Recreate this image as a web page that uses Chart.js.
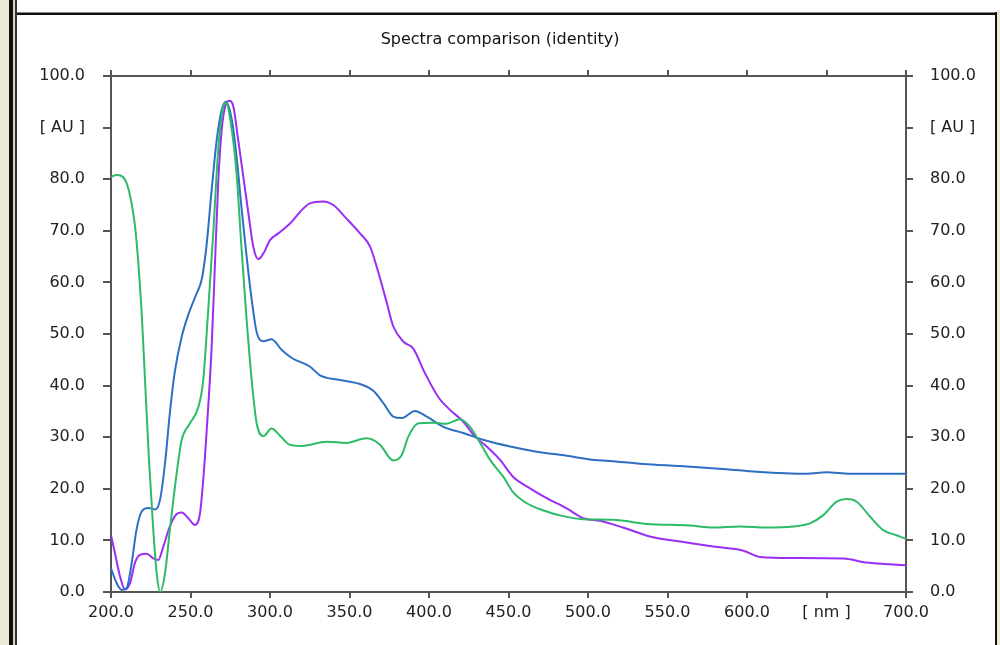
<!DOCTYPE html>
<html>
<head>
<meta charset="utf-8">
<title>Spectra comparison (identity)</title>
<script src="https://cdn.jsdelivr.net/npm/chart.js@4/dist/chart.umd.min.js"></script>
<style>
  html, body { margin: 0; padding: 0; background: #fff; }
  #wrap { position: relative; width: 1000px; height: 645px; overflow: hidden; }
  #spectra { position: absolute; left: 0; top: 0; }
  .frame { position: absolute; pointer-events: none; }
</style>
</head>
<body>
<div id="wrap">
  <canvas id="spectra" width="1000" height="645"></canvas>
  <!-- window frame around the plot panel -->
  <div class="frame" style="left:0;top:0;width:9px;height:645px;background:#ece9d8"></div>
  <div class="frame" style="left:9px;top:0;width:4px;height:645px;background:#111"></div>
  <div class="frame" style="left:13px;top:0;width:2px;height:645px;background:#d8d4c4"></div>
  <div class="frame" style="left:15px;top:0;width:2px;height:645px;background:#333"></div>
  <div class="frame" style="left:17px;top:12px;width:980px;height:1px;background:#888"></div>
  <div class="frame" style="left:17px;top:13px;width:980px;height:2px;background:#111"></div>
  <div class="frame" style="left:995px;top:12px;width:2px;height:633px;background:#111"></div>
  <div class="frame" style="left:997px;top:10px;width:3px;height:635px;background:#ece9d8"></div>
</div>
<script>
// wavelength [nm] / absorbance [AU] pairs
const blueNm = [200, 203.6, 206.7, 209.9, 213, 216, 219.3, 223.5, 227.7, 230.8, 234, 237, 240, 244.5, 248.6, 253.9, 257, 260, 263.3, 266.5, 269.6, 272.3, 276, 279, 282, 285.3, 288.5, 291.6, 295.8, 301, 307.4, 314, 325, 331.4, 344, 356.6, 365, 371.3, 377.5, 382.8, 391.2, 398.6, 409, 421.6, 434, 451, 467.7, 486.6, 501, 513.8, 534.8, 558, 587, 606, 637.5, 650, 664.8, 700];
const blueAu = [4.6, 1.7, 0.4, 0.8, 5.6, 12, 15.6, 16.3, 16, 17.8, 25, 34.6, 42.4, 49.5, 53.7, 57.9, 60.5, 66.9, 77.9, 87.6, 93.4, 95, 91.5, 84.4, 74.7, 65, 56.6, 50.4, 48.6, 49, 46.9, 45.3, 43.7, 42, 41.1, 40.3, 39, 36.6, 34, 33.7, 35.1, 34, 32, 30.8, 29.5, 28.2, 27.2, 26.4, 25.7, 25.4, 24.8, 24.4, 23.8, 23.3, 22.9, 23.2, 22.9, 22.9];

const greenNm = [200, 203.6, 209, 214, 216, 219.3, 221.4, 224, 226.6, 228.7, 231, 234, 237, 241.3, 244.5, 249.7, 255, 258, 261, 264.4, 267.5, 270.6, 272.3, 276, 279, 282, 285, 288.5, 291.6, 295.8, 301, 306, 312, 319, 335.7, 348, 360.8, 369, 377.5, 382.8, 387, 393.3, 402.7, 411, 419.5, 425.8, 431, 438.4, 446.8, 453, 461.5, 472, 484.5, 497, 516, 537, 564, 578.8, 595.6, 612.4, 629, 639.6, 648, 656.4, 662.7, 669, 677.4, 685.7, 694, 700];
const greenAu = [80.5, 80.8, 79.8, 73.4, 68.2, 54, 41, 25, 12, 3.7, 0, 3.7, 12, 23, 29.5, 32.7, 35.9, 41, 54, 70, 86, 94, 94.8, 89.5, 81, 67, 54, 41, 32.7, 30.2, 31.7, 30.4, 28.6, 28.3, 29.1, 28.9, 29.8, 28.6, 25.5, 26.5, 30.1, 32.7, 32.8, 32.6, 33.5, 32, 29.5, 25.6, 22.3, 19.3, 17.2, 15.8, 14.7, 14.1, 14, 13.2, 12.9, 12.5, 12.7, 12.5, 12.7, 13.3, 14.9, 17.5, 18, 17.5, 14.6, 12, 11, 10.3];

const purpleNm = [200, 202.5, 205.7, 208.8, 212, 215, 218.2, 222.4, 226.6, 229.7, 232.9, 237, 241.3, 244.5, 248.6, 252.8, 256, 258, 260.2, 263.3, 265.4, 267.5, 269.6, 271.7, 274.2, 277, 280, 283.2, 286.4, 289.5, 292.6, 295.8, 300, 305.2, 312.6, 319, 325, 333.5, 339.8, 348, 356.6, 363, 369, 373.5, 377.5, 384, 390, 397.5, 405.8, 413.2, 421.6, 429, 436.3, 444.7, 453, 463.5, 474, 486.6, 497, 507.5, 522, 541, 558, 578.8, 597.7, 608.2, 629, 660.6, 675.3, 700];
const purpleAu = [11, 7.5, 3, 0.5, 1.7, 5.6, 7.2, 7.4, 6.5, 6.2, 8.8, 12.7, 15.1, 15.4, 14.3, 13, 15.3, 21.7, 31.4, 47.5, 63.7, 79.8, 89.5, 94, 95.2, 94, 87.6, 80.5, 73.4, 66.9, 64.5, 65.6, 68.2, 69.5, 71.4, 73.7, 75.3, 75.7, 75, 72.4, 69.5, 66.9, 61, 56, 51.5, 48.5, 47.2, 42.4, 37.8, 35.3, 33, 30.1, 28.2, 25.6, 22.3, 20.1, 18.2, 16.2, 14.3, 13.8, 12.5, 10.6, 9.8, 8.8, 8, 6.8, 6.6, 6.5, 5.7, 5.2];

const nmTicks = [200, 250, 300, 350, 400, 450, 500, 550, 600, 650, 700];
const auTicks = [0, 10, 20, 30, 40, 50, 60, 70, 80, 90, 100];

const axisColor = '#555';
const labelFont = { family: '"DejaVu Sans", sans-serif', size: 16 };

function toPoints(xs, ys) {
  return xs.map((x, i) => ({ x, y: ys[i] }));
}

function spectrum(points, color) {
  return {
    data: points,
    borderColor: color,
    borderWidth: 2,
    pointRadius: 0,
    fill: false,
    cubicInterpolationMode: 'monotone'
  };
}

function fixedTicks(values) {
  return axis => { axis.ticks = values.map(v => ({ value: v })); };
}

// x tick at 650 and y tick at 90 carry the unit labels, like the original
const nmLabel = v => (v === 650 ? '[ nm ]' : Number(v).toFixed(1));
const auLabel = v => (v === 90 ? '[ AU ]' : Number(v).toFixed(1));

new Chart(document.getElementById('spectra'), {
  type: 'line',
  data: {
    datasets: [
      spectrum(toPoints(greenNm, greenAu), '#2dbb68'),
      spectrum(toPoints(blueNm, blueAu), '#2e6fc4'),
      spectrum(toPoints(purpleNm, purpleAu), '#9a2ef5')
    ]
  },
  options: {
    responsive: false,
    animation: false,
    layout: { padding: 0 },
    plugins: {
      legend: { display: false },
      tooltip: { enabled: false },
      title: {
        display: true,
        text: 'Spectra comparison (identity)',
        color: '#111',
        font: { family: '"DejaVu Sans", sans-serif', size: 16, weight: 'normal' },
        padding: { top: 30, bottom: 4 }
      }
    },
    scales: {
      x: {
        type: 'linear', position: 'bottom', min: 200, max: 700,
        afterBuildTicks: fixedTicks(nmTicks),
        afterFit: s => { s.height = 53; },
        border: { display: true, color: axisColor, width: 2 },
        grid: { drawOnChartArea: false, drawTicks: true, tickLength: 6, color: axisColor, lineWidth: 2 },
        ticks: { color: '#222', font: labelFont, padding: 5, maxRotation: 0, autoSkip: false, callback: nmLabel }
      },
      xTop: {
        type: 'linear', position: 'top', min: 200, max: 700,
        afterBuildTicks: fixedTicks(nmTicks),
        afterFit: s => { s.height = 22.8; },
        border: { display: true, color: axisColor, width: 2 },
        grid: { drawOnChartArea: false, drawTicks: true, tickLength: 6, color: axisColor, lineWidth: 2 },
        ticks: { display: false }
      },
      y: {
        type: 'linear', position: 'left', min: 0, max: 100,
        afterBuildTicks: fixedTicks(auTicks),
        afterFit: s => { s.width = 111; },
        border: { display: true, color: axisColor, width: 2 },
        grid: { drawOnChartArea: false, drawTicks: true, tickLength: 8, color: axisColor, lineWidth: 2 },
        ticks: { color: '#222', font: labelFont, padding: 18, autoSkip: false, callback: auLabel }
      },
      yRight: {
        type: 'linear', position: 'right', min: 0, max: 100,
        afterBuildTicks: fixedTicks(auTicks),
        afterFit: s => { s.width = 94; },
        border: { display: true, color: axisColor, width: 2 },
        grid: { drawOnChartArea: false, drawTicks: true, tickLength: 7, color: axisColor, lineWidth: 2 },
        ticks: { color: '#222', font: labelFont, padding: 17, autoSkip: false, callback: auLabel }
      }
    }
  }
});
</script>
</body>
</html>
